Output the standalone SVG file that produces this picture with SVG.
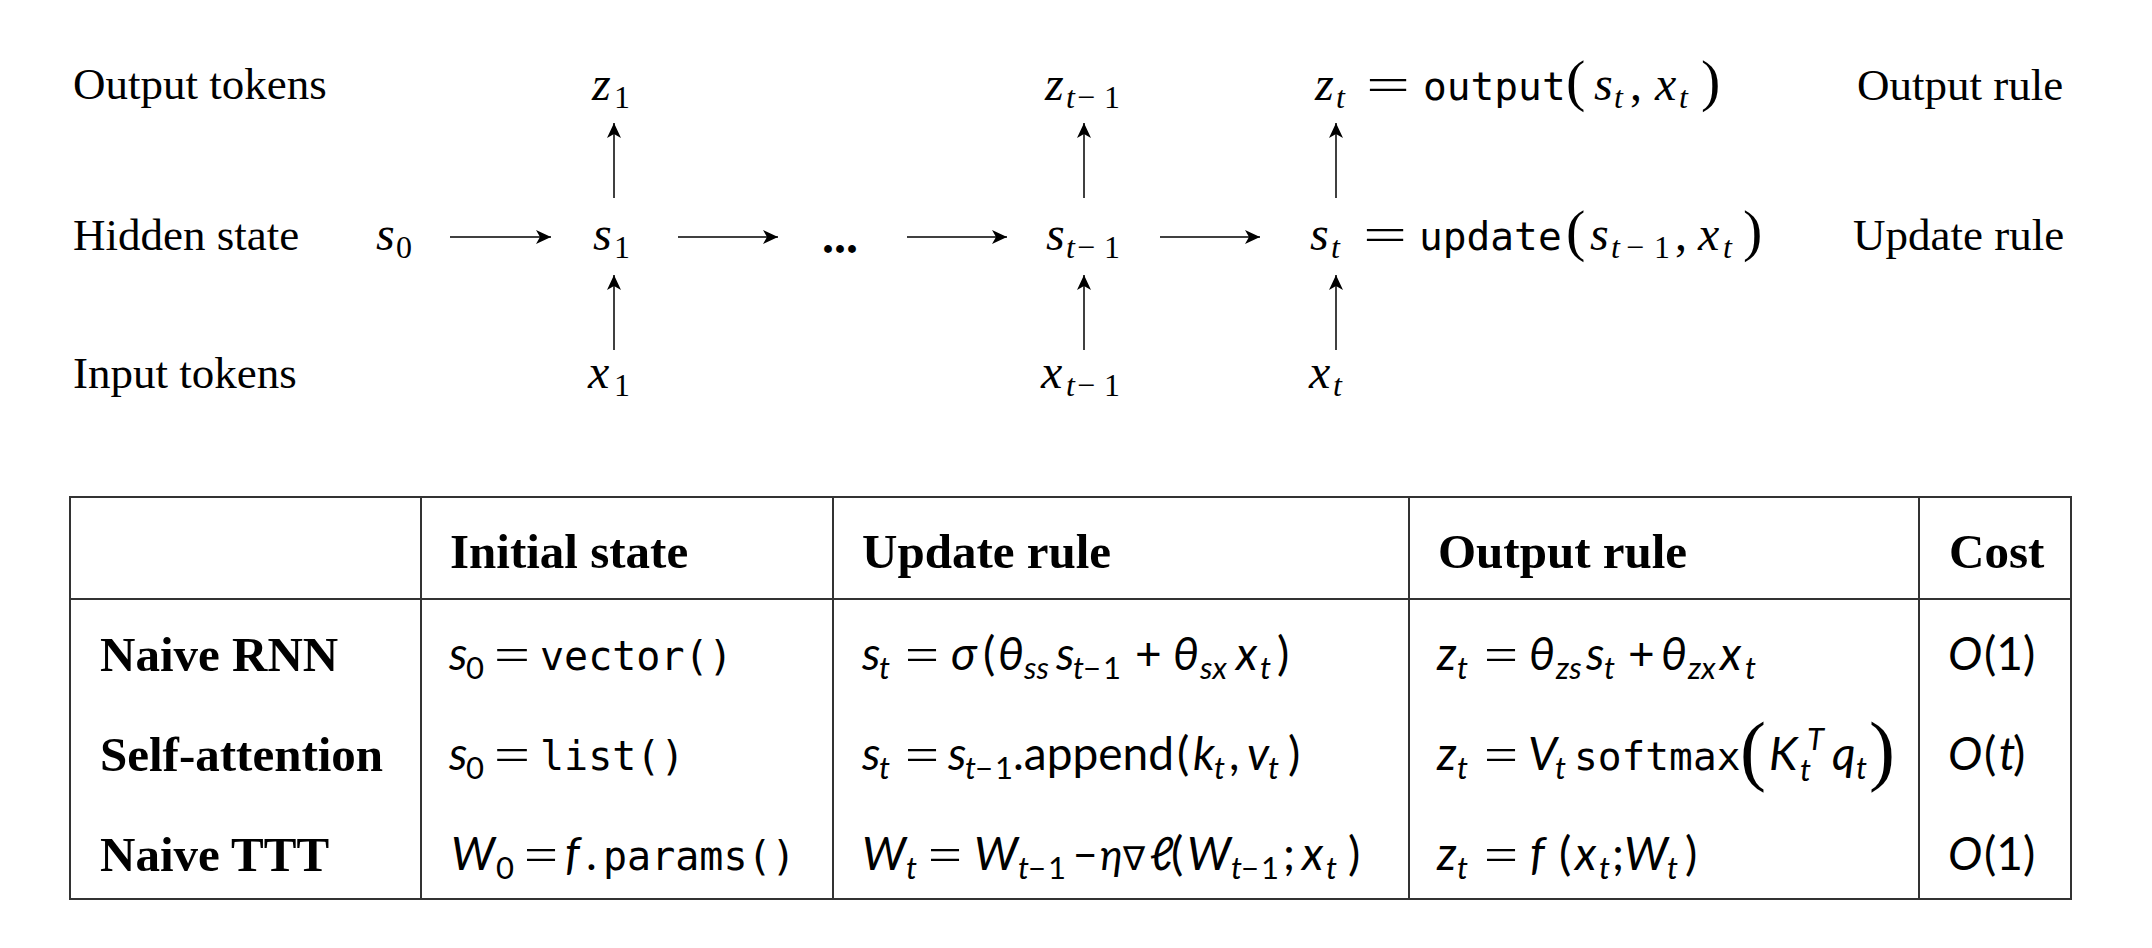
<svg xmlns="http://www.w3.org/2000/svg" width="2152" height="948" viewBox="0 0 2152 948">
<style>
text{fill:#000}
.lbl{font-family:"Liberation Serif",serif;font-size:45px}
.mi{font-family:"Liberation Serif",serif;font-style:italic;font-size:48px}
.mr{font-family:"Liberation Serif",serif;font-size:48px}
.si{font-family:"Liberation Serif",serif;font-style:italic;font-size:32px}
.sr{font-family:"Liberation Serif",serif;font-size:32px}
.par{font-family:"Liberation Serif",serif;font-size:58px}
.tt{font-family:"DejaVu Sans Mono",monospace;font-size:39.5px}
.eq{font-family:"Liberation Serif",serif;font-size:46px}
.dots{font-family:"Liberation Serif",serif;font-size:48px;font-weight:bold}
.hd{font-family:"Liberation Serif",serif;font-size:49px;font-weight:bold}
.ti{font-family:Lato,"Noto Sans",sans-serif;font-style:italic;font-size:46px}
.tu{font-family:Lato,"Noto Sans",sans-serif;font-size:46px}
.ts{font-family:Lato,"Noto Sans",sans-serif;font-style:italic;font-size:31px}
.tsr{font-family:Lato,"Noto Sans",sans-serif;font-size:31px}
.sans{font-family:Lato,"Noto Sans",sans-serif;font-size:46px}
.bigp{font-family:"Liberation Serif",serif;font-size:78px}
.nab{font-family:"DejaVu Sans",sans-serif;font-size:33px}
.conn{stroke:#000;stroke-width:1.5;fill:none;marker-end:url(#ah)}
.grid{stroke:#333;stroke-width:2;fill:none}
</style>
<defs>
<marker id="ah" markerUnits="userSpaceOnUse" markerWidth="16" markerHeight="14" refX="15" refY="7" orient="auto">
<path d="M0,0 L15,7 L0,14 L4,7 z" fill="#000"/>
</marker>
</defs>
<rect width="2152" height="948" fill="#fff"/>

<g id="row-labels">
<text class="lbl" x="73" y="99">Output tokens</text>
<text class="lbl" x="73" y="250">Hidden state</text>
<text class="lbl" x="73" y="388">Input tokens</text>
<text class="lbl" x="1857" y="100">Output rule</text>
<text class="lbl" x="1853" y="250">Update rule</text>
</g>

<g id="node-s0"><text class="mi" x="376" y="250">s</text><text class="sr" x="396" y="258">0</text></g>
<g id="node-z1"><text class="mi" x="592" y="100">z</text><text class="sr" x="614" y="108">1</text></g>
<g id="node-s1"><text class="mi" x="593" y="250">s</text><text class="sr" x="614" y="258">1</text></g>
<g id="node-x1"><text class="mi" x="588" y="388">x</text><text class="sr" x="614" y="396">1</text></g>
<g id="node-dots"><text class="dots" x="822" y="253">...</text></g>
<g id="node-zt1"><text class="mi" x="1045" y="100">z</text><text class="si" x="1066" y="108">t</text><text class="sr" x="1077" y="108">−</text><text class="sr" x="1104" y="108">1</text></g>
<g id="node-st1"><text class="mi" x="1046" y="250">s</text><text class="si" x="1066" y="258">t</text><text class="sr" x="1077" y="258">−</text><text class="sr" x="1104" y="258">1</text></g>
<g id="node-xt1"><text class="mi" x="1041" y="388">x</text><text class="si" x="1066" y="396">t</text><text class="sr" x="1077" y="396">−</text><text class="sr" x="1104" y="396">1</text></g>

<g id="node-zt">
<text class="mi" x="1315" y="100">z</text><text class="si" x="1336" y="108">t</text>
<text class="eq" x="1366" y="100" textLength="44" lengthAdjust="spacingAndGlyphs">=</text>
<text class="tt" x="1423" y="100">output</text>
<text class="par" x="1566" y="100">(</text>
<text class="mi" x="1594" y="100">s</text><text class="si" x="1614" y="108">t</text>
<text class="mr" x="1630" y="100">,</text>
<text class="mi" x="1655" y="100">x</text><text class="si" x="1679" y="108">t</text>
<text class="par" x="1701" y="100">)</text>
</g>
<g id="node-st">
<text class="mi" x="1310" y="250">s</text><text class="si" x="1331" y="258">t</text>
<text class="eq" x="1363" y="250" textLength="44" lengthAdjust="spacingAndGlyphs">=</text>
<text class="tt" x="1419" y="250">update</text>
<text class="par" x="1566" y="250">(</text>
<text class="mi" x="1590" y="250">s</text><text class="si" x="1611" y="258">t</text><text class="sr" x="1626" y="258">−</text><text class="sr" x="1654" y="258">1</text>
<text class="mr" x="1675" y="250">,</text>
<text class="mi" x="1698" y="250">x</text><text class="si" x="1723" y="258">t</text>
<text class="par" x="1743" y="250">)</text>
</g>
<g id="node-xt"><text class="mi" x="1309" y="388">x</text><text class="si" x="1333" y="396">t</text></g>

<g id="connectors">
<line class="conn" x1="450" y1="237" x2="551" y2="237"/>
<line class="conn" x1="678" y1="237" x2="778" y2="237"/>
<line class="conn" x1="907" y1="237" x2="1007" y2="237"/>
<line class="conn" x1="1160" y1="237" x2="1260" y2="237"/>
<line class="conn" x1="614" y1="198" x2="614" y2="123"/>
<line class="conn" x1="614" y1="350" x2="614" y2="275"/>
<line class="conn" x1="1084" y1="198" x2="1084" y2="123"/>
<line class="conn" x1="1084" y1="350" x2="1084" y2="275"/>
<line class="conn" x1="1336" y1="198" x2="1336" y2="123"/>
<line class="conn" x1="1336" y1="350" x2="1336" y2="275"/>
</g>

<g id="table">
<g id="table-grid">
<rect class="grid" x="70" y="497" width="2001" height="402"/>
<line class="grid" x1="70" y1="599" x2="2071" y2="599"/>
<line class="grid" x1="421" y1="497" x2="421" y2="899"/>
<line class="grid" x1="833" y1="497" x2="833" y2="899"/>
<line class="grid" x1="1409" y1="497" x2="1409" y2="899"/>
<line class="grid" x1="1919" y1="497" x2="1919" y2="899"/>
</g>
<g id="table-header">
<text class="hd" x="450" y="568">Initial state</text>
<text class="hd" x="862" y="568">Update rule</text>
<text class="hd" x="1438" y="568">Output rule</text>
<text class="hd" x="1949" y="568">Cost</text>
</g>
<g id="row-rnn">
<text class="hd" x="100" y="671">Naive RNN</text>
<text class="ti" x="449" y="670">s</text><text class="tsr" x="466" y="679">0</text>
<text class="eq" x="494" y="670" textLength="36" lengthAdjust="spacingAndGlyphs">=</text>
<text class="tt" x="540" y="670" style="font-size:40px">vector()</text>

<text class="ti" x="862" y="670">s</text><text class="ts" x="879" y="679">t</text>
<text class="eq" x="905" y="670" textLength="34" lengthAdjust="spacingAndGlyphs">=</text>
<text class="ti" x="951" y="670">σ</text>
<text class="tu" x="983" y="670">(</text>
<text class="ti" x="998" y="670">θ</text><text class="ts" x="1024" y="679">ss</text>
<text class="ti" x="1056" y="670">s</text><text class="ts" x="1073" y="679">t</text><text class="tsr" x="1083" y="679">−</text><text class="tsr" x="1103" y="679">1</text>
<text class="tu" x="1135" y="670">+</text>
<text class="ti" x="1173" y="670">θ</text><text class="ts" x="1200" y="679">sx</text>
<text class="ti" x="1236" y="670">x</text><text class="ts" x="1260" y="679">t</text>
<text class="tu" x="1277" y="670">)</text>

<text class="ti" x="1437" y="670">z</text><text class="ts" x="1457" y="679">t</text>
<text class="eq" x="1484" y="670" textLength="34" lengthAdjust="spacingAndGlyphs">=</text>
<text class="ti" x="1529" y="670">θ</text><text class="ts" x="1556" y="679">zs</text>
<text class="ti" x="1586" y="670">s</text><text class="ts" x="1604" y="679">t</text>
<text class="tu" x="1628" y="670">+</text>
<text class="ti" x="1661" y="670">θ</text><text class="ts" x="1688" y="679">zx</text>
<text class="ti" x="1720" y="670">x</text><text class="ts" x="1745" y="679">t</text>

<text class="ti" x="1948" y="670">O</text><text class="tu" x="1984" y="670">(1)</text>
</g>
<g id="row-attn">
<text class="hd" x="100" y="771">Self-attention</text>
<text class="ti" x="449" y="770">s</text><text class="tsr" x="466" y="779">0</text>
<text class="eq" x="494" y="770" textLength="36" lengthAdjust="spacingAndGlyphs">=</text>
<text class="tt" x="540" y="770" style="font-size:40px">list()</text>

<text class="ti" x="862" y="770">s</text><text class="ts" x="879" y="779">t</text>
<text class="eq" x="905" y="770" textLength="34" lengthAdjust="spacingAndGlyphs">=</text>
<text class="ti" x="948" y="770">s</text><text class="ts" x="965" y="779">t</text><text class="tsr" x="975" y="779">−</text><text class="tsr" x="995" y="779">1</text>
<text class="sans" x="1013" y="770">.append</text>
<text class="tu" x="1177" y="770">(</text>
<text class="ti" x="1193" y="770">k</text><text class="ts" x="1214" y="779">t</text>
<text class="tu" x="1229" y="770">,</text>
<text class="ti" x="1247" y="770">v</text><text class="ts" x="1268" y="779">t</text>
<text class="tu" x="1288" y="770">)</text>

<text class="ti" x="1437" y="770">z</text><text class="ts" x="1457" y="779">t</text>
<text class="eq" x="1484" y="770" textLength="34" lengthAdjust="spacingAndGlyphs">=</text>
<text class="ti" x="1528" y="770">V</text><text class="ts" x="1555" y="779">t</text>
<text class="tt" x="1574" y="770">softmax</text>
<text class="bigp" x="1740" y="776">(</text>
<text class="ti" x="1769" y="770">K</text><text class="ts" x="1807" y="750">T</text><text class="ts" x="1800" y="781">t</text>
<text class="ti" x="1832" y="770">q</text><text class="ts" x="1856" y="779">t</text>
<text class="bigp" x="1869" y="776">)</text>

<text class="ti" x="1948" y="770">O</text><text class="tu" x="1984" y="770">(</text><text class="ti" x="1999" y="770">t</text><text class="tu" x="2013" y="770">)</text>
</g>
<g id="row-ttt">
<text class="hd" x="100" y="871">Naive TTT</text>
<text class="ti" x="451" y="870">W</text><text class="tsr" x="496" y="879">0</text>
<text class="eq" x="524" y="870" textLength="34" lengthAdjust="spacingAndGlyphs">=</text>
<text class="ti" x="565" y="870">f</text>
<text class="tu" x="586" y="870">.</text>
<text class="tt" x="603" y="870" style="font-size:40px">params()</text>

<text class="ti" x="862" y="870">W</text><text class="ts" x="906" y="879">t</text>
<text class="eq" x="928" y="870" textLength="34" lengthAdjust="spacingAndGlyphs">=</text>
<text class="ti" x="974" y="870">W</text><text class="ts" x="1018" y="879">t</text><text class="tsr" x="1028" y="879">−</text><text class="tsr" x="1048" y="879">1</text>
<text class="tu" x="1073" y="870" style="font-size:42px">−</text>
<text class="ti" x="1100" y="870" style="font-size:42px">η</text>
<text class="nab" x="1123" y="870">∇</text>
<text class="ti" x="1150" y="870">ℓ</text>
<text class="tu" x="1171" y="870">(</text>
<text class="ti" x="1187" y="870">W</text><text class="ts" x="1231" y="879">t</text><text class="tsr" x="1241" y="879">−</text><text class="tsr" x="1261" y="879">1</text>
<text class="tu" x="1283" y="870">;</text>
<text class="ti" x="1302" y="870">x</text><text class="ts" x="1326" y="879">t</text>
<text class="tu" x="1348" y="870">)</text>

<text class="ti" x="1437" y="870">z</text><text class="ts" x="1457" y="879">t</text>
<text class="eq" x="1484" y="870" textLength="34" lengthAdjust="spacingAndGlyphs">=</text>
<text class="ti" x="1530" y="870">f</text>
<text class="tu" x="1559" y="870">(</text>
<text class="ti" x="1575" y="870">x</text><text class="ts" x="1599" y="879">t</text>
<text class="tu" x="1612" y="870">;</text>
<text class="ti" x="1624" y="870">W</text><text class="ts" x="1667" y="879">t</text>
<text class="tu" x="1685" y="870">)</text>

<text class="ti" x="1948" y="870">O</text><text class="tu" x="1984" y="870">(1)</text>
</g>
</g>
</svg>
